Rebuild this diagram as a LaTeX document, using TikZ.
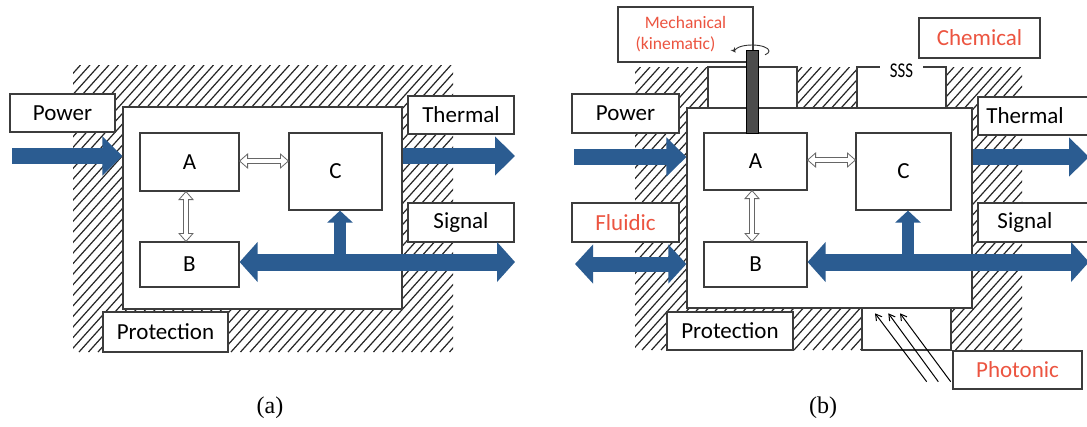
\documentclass[tikz,border=0pt]{standalone}
\usepackage{fontspec}
\setmainfont{Carlito}
\newfontfamily\capfont{Liberation Serif}
\usetikzlibrary{arrows.meta,calc}
\definecolor{arrowblue}{RGB}{43,92,145}
\definecolor{redtxt}{RGB}{236,84,64}
\definecolor{linegray}{RGB}{60,60,60}
\begin{document}
\begin{tikzpicture}[x=1pt,y=-1pt,
  box/.style={draw=linegray,line width=1.2pt,fill=white,inner sep=0pt,font=\fontsize{23}{26}\selectfont},
  lbl/.style={box},
  hatchln/.style={draw=black!85,line width=1.2pt},
  bluearr/.style={draw=arrowblue,line width=16pt,-{Triangle[width=38pt,length=20pt]}},
  bluedbl/.style={draw=arrowblue,line width=17pt,{Triangle[width=39pt,length=18pt]}-{Triangle[width=39pt,length=18pt]}},
  blueup/.style={draw=arrowblue,line width=12.5pt,-{Triangle[width=25pt,length=12pt]}},
  wharrow/.style={draw=black!60,line width=0.8pt,fill=white},
  notch/.style={draw=linegray,line width=1.2pt},
  photon/.style={draw=black,line width=1pt,-{Straight Barb[length=6pt,width=7pt]}},
  captxt/.style={font=\capfont\fontsize{24}{26}\selectfont}
]
\clip (0,0) rectangle (1087,426);
\fill[white] (0,0) rectangle (1087,426);

% ================= PANEL (a) =================
\begin{scope}
  \clip (73,65) rectangle (453,352);
  \foreach \i in {-320,-310.5,...,460} \draw[hatchln] (\i,352) -- (\i+258,65);
\end{scope}
\node[box,minimum width=279,minimum height=202] (Sa) at (262.5,208) {};
\node[box,minimum width=99,minimum height=58] (Aa) at (189.5,162) {A};
\node[box,minimum width=93,minimum height=77] (Ca) at (335.5,171.5) {C};
\node[box,minimum width=99,minimum height=45] (Ba) at (189.5,264.5) {B};
\node[lbl,minimum width=105,minimum height=38] (Pwa) at (62.5,113) {Power};
\node[lbl,minimum width=106,minimum height=38] (Tha) at (461,115) {Thermal};
\node[lbl,minimum width=106,minimum height=39] (Sga) at (461,222.5) {Signal};
\node[lbl,minimum width=125,minimum height=40] (Pra) at (165.5,332) {Protection};

\coordinate (pa1) at (12,156);
\draw[bluearr] (pa1) -- (pa1 -| Sa.west);
\coordinate (ta1) at (515,156);
\draw[bluearr] (ta1 -| Sa.east) -- (ta1);
\coordinate (sa1) at (515,262);
\draw[bluedbl] (sa1 -| Ba.east) -- (sa1);
\coordinate (ua1) at (340,262);
\draw[blueup] ($(ua1)+(0,8)$) -- (ua1 |- Ca.south);

% white double arrows (a)
\path[wharrow] (Aa.east |- 0,161) -- ++(8,-7) -- ++(0,4.5) -- ($(Ca.west |- 0,161)+(-8,-2.5)$) -- ++(0,-4.5) -- (Ca.west |- 0,161) -- ++(-8,7) -- ++(0,-4.5) -- ($(Aa.east |- 0,161)+(8,2.5)$) -- ++(0,4.5) -- cycle;
\path[wharrow] (186,0 |- Aa.south) -- ++(-7,8) -- ++(4.5,0) -- ($(186,0 |- Ba.north)+(-2.5,-8)$) -- ++(-4.5,0) -- (186,0 |- Ba.north) -- ++(7,-8) -- ++(-4.5,0) -- ($(186,0 |- Aa.south)+(2.5,8)$) -- ++(4.5,0) -- cycle;

\node[captxt] (capa) at (270,408) {(a)};

% ================= PANEL (b) =================
\begin{scope}
  \clip (635,67) rectangle (1022,350);
  \foreach \i in {300,309.5,...,1100} \draw[hatchln] (\i,350) -- (\i+255,67);
\end{scope}
% white notches
\fill[white] (708,67) rectangle (797,108);
\fill[white] (857,67) rectangle (946,108);
\fill[white] (862,308) rectangle (951,350);
\draw[notch] (708,108) -- (708,67) -- (797,67) -- (797,108);
\draw[notch] (857,108) -- (857,67) -- (880,67);
\draw[notch] (923,67) -- (946,67) -- (946,108);
\node[font=\fontsize{21}{22}\selectfont,inner sep=0pt,xscale=0.8] (sss) at (901.5,71) {SSS};
\draw[notch] (862,308) -- (862,350) -- (951,350) -- (951,308);

\node[box,minimum width=285,minimum height=200] (Sb) at (829.5,208) {};
\node[box,minimum width=103,minimum height=57] (Ab) at (755.5,161.5) {A};
\node[box,minimum width=95,minimum height=77] (Cb) at (903.5,171.5) {C};
\node[box,minimum width=103,minimum height=45] (Bb) at (755.5,264.5) {B};

\node[lbl,minimum width=107,minimum height=39] (Pwb) at (625.5,113.5) {Power};
\node[lbl,minimum width=107,minimum height=39,text=redtxt] (Flb) at (625.5,222.5) {Fluidic};
\node[lbl,minimum width=114,minimum height=38,text=black] (Thb) at (1035,116) {\hspace*{-20pt}Thermal};
\node[lbl,minimum width=114,minimum height=39] (Sgb) at (1035,222.5) {\hspace*{-20pt}Signal};
\node[lbl,minimum width=126,minimum height=38] (Prb) at (730,331) {Protection};
\node[lbl,minimum width=129,minimum height=38,text=redtxt] (Phb) at (1017.5,370) {Photonic};
\node[lbl,minimum width=121,minimum height=40,text=redtxt] (Chb) at (979.5,38) {Chemical};
\node[lbl,minimum width=135,minimum height=55,text=redtxt,align=center,font=\fontsize{17.5}{21}\selectfont] (Meb) at (685.5,34.5) {Mechanical\\(kinematic)\hspace*{20pt}};

% shaft
\draw[draw=black,fill=black!70,line width=1pt] (746,50) rectangle (758,133);
\coordinate (rot) at (752,51);
\draw[black!80,line width=0.9pt,-{Stealth[length=5pt,width=5pt]}] ($(rot)+(17,0)$) arc[start angle=0,end angle=-195,x radius=17,y radius=6];
\draw[black!80,line width=0.9pt] ($(rot)+(17,0)$) arc[start angle=0,end angle=40,x radius=17,y radius=6];

\coordinate (pb1) at (574,157);
\draw[bluearr] (pb1) -- (pb1 -| Sb.west);
\coordinate (tb1) at (1089,157);
\draw[bluearr] (tb1 -| Sb.east) -- (tb1);
\coordinate (fb1) at (575,264);
\draw[draw=arrowblue,line width=15pt,{Triangle[width=38pt,length=18pt]}-{Triangle[width=38pt,length=18pt]}] (fb1) -- (fb1 -| Sb.west);
\coordinate (sb1) at (1089,262);
\draw[bluedbl] (sb1 -| Bb.east) -- (sb1);
\coordinate (ub1) at (908,262);
\draw[blueup] ($(ub1)+(0,8)$) -- (ub1 |- Cb.south);

% white double arrows (b)
\path[wharrow] (Ab.east |- 0,160) -- ++(8,-7) -- ++(0,4.5) -- ($(Cb.west |- 0,160)+(-8,-2.5)$) -- ++(0,-4.5) -- (Cb.west |- 0,160) -- ++(-8,7) -- ++(0,-4.5) -- ($(Ab.east |- 0,160)+(8,2.5)$) -- ++(0,4.5) -- cycle;
\path[wharrow] (752,0 |- Ab.south) -- ++(-7,8) -- ++(4.5,0) -- ($(752,0 |- Bb.north)+(-2.5,-8)$) -- ++(-4.5,0) -- (752,0 |- Bb.north) -- ++(7,-8) -- ++(-4.5,0) -- ($(752,0 |- Ab.south)+(2.5,8)$) -- ++(4.5,0) -- cycle;

% photonic rays
\coordinate (ph1s) at (926.7,381.7); \coordinate (ph1e) at (875,313.3);
\coordinate (ph2s) at (938.3,381.7); \coordinate (ph2e) at (888.3,313.3);
\coordinate (ph3s) at (950.7,381.7); \coordinate (ph3e) at (900,313.3);
\draw[photon] (ph1s) -- (ph1e);
\draw[photon] (ph2s) -- (ph2e);
\draw[photon] (ph3s) -- (ph3e);

\node[captxt] (capb) at (823,408) {(b)};
\end{tikzpicture}
\end{document}
